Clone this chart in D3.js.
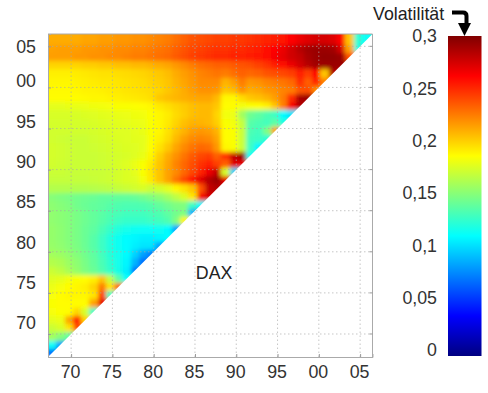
<!DOCTYPE html>
<html>
<head>
<meta charset="utf-8">
<script src="https://cdn.jsdelivr.net/npm/d3@7/dist/d3.min.js"></script>
<style>
  body { margin: 0; background: #fff; }
  text { font-family: "Liberation Sans", Arial, sans-serif; }
</style>
</head>
<body>
<script>
// first year of the rolling window, one column per year
let firstYear = 1967;

let tickYears = [1970, 1975, 1980, 1985, 1990, 1995, 2000, 2005];
let tickLabels = ["70", "75", "80", "85", "90", "95", "00", "05"];

let barTicks = [0, 0.05, 0.1, 0.15, 0.2, 0.25, 0.3];
let barLabels = ["0", "0,05", "0,1", "0,15", "0,2", "0,25", "0,3"];

// jet colormap stops
let jetStops = [0, 0.0375, 0.1125, 0.1875, 0.2625, 0.3];
let jetColors = ["#000080", "#0000ff", "#00ffff", "#ffff00", "#ff0000", "#800000"];

// volatility x 1000. first row = 2005, last row = 1967,
// each row starts at column 1967 and ends on the diagonal
let vol = [
  [212,212,212,212,214,214,216,216,218,218, 220,220,222,224,226,230,234,238,240,242, 244,244,246,246,248,250,252,254,256,262, 268,272,275,275,272,262,205,125,115],
  [215,216,216,216,218,218,220,220,222,222, 224,224,226,228,230,234,238,242,244,246, 248,248,250,250,252,254,258,262,268,276, 284,290,292,292,290,275,215,120],
  [216,216,216,218,218,220,220,222,222,224, 226,226,228,230,232,236,240,244,246,248, 250,250,252,252,254,256,260,265,270,276, 280,288,292,294,294,292,240],
  [200,200,200,200,202,202,204,204,206,206, 208,208,210,212,214,218,222,226,230,232, 234,234,236,238,240,244,248,255,260,268, 276,284,290,292,292,292],
  [192,192,192,193,194,195,196,196,197,198, 199,200,202,204,207,212,216,220,224,226, 228,226,230,234,232,234,238,240,242,245, 255,245,262,205,285],
  [190,190,190,191,192,193,194,194,195,196, 197,198,200,202,205,210,214,218,222,222, 222,210,216,226,218,220,224,226,228,232, 250,235,252,225],
  [189,189,189,190,191,191,192,193,194,195, 196,197,198,200,204,208,212,216,220,220, 218,205,208,220,212,214,218,220,224,226, 238,240,222],
  [188,188,188,188,189,190,190,191,192,193, 194,195,197,204,207,209,211,213,214,214, 208,190,190,198,204,206,210,216,226,250, 288,292],
  [180,180,181,181,182,183,184,185,186,186, 187,188,190,194,197,200,203,206,208,208, 204,188,188,184,186,188,192,205,225,265, 285],
  [176,176,176,176,177,178,179,180,181,182, 183,184,187,190,193,198,202,206,208,208, 200,184,182,160,145,140,135,130,112,105],
  [175,175,175,175,175,176,177,178,179,180, 181,182,186,190,194,200,206,210,210,208, 202,186,184,170,138,135,132,140,122],
  [174,174,174,174,174,175,176,177,178,178, 180,181,186,190,196,204,210,216,218,216, 210,188,186,172,135,132,150,215],
  [174,173,172,172,172,174,175,176,177,178, 179,180,186,192,198,208,216,222,224,222, 214,188,186,172,132,130,125],
  [175,174,173,172,172,173,174,175,176,177, 178,180,188,196,204,214,222,228,232,230, 218,190,186,172,130,110],
  [175,174,173,172,172,172,173,174,175,176, 178,181,190,202,212,220,228,236,242,245, 235,248,280,292,115],
  [174,173,172,172,172,172,173,174,176,178, 182,186,194,205,214,224,232,240,248,252, 245,235,272,270],
  [172,172,171,171,171,172,172,173,175,177, 180,186,195,205,215,222,232,242,252,268, 280,175,100],
  [170,170,170,170,170,171,172,173,175,177, 178,184,194,205,215,228,242,258,272,285, 292,270],
  [165,165,165,165,165,166,167,168,170,172, 174,176,172,175,180,190,196,205,240,280, 285],
  [152,150,148,146,145,144,142,142,142,142, 143,146,150,154,160,168,176,195,265,275],
  [154,152,150,146,144,142,140,138,136,135, 135,136,138,142,146,150,150,130,110],
  [155,153,151,148,145,142,139,136,134,132, 132,132,134,136,140,146,150,90],
  [155,153,151,148,145,142,138,134,130,128, 128,128,130,132,136,150,190],
  [156,154,151,148,144,140,134,128,122,118, 116,115,115,116,112,85],
  [156,154,151,148,144,138,130,122,116,112, 110,108,108,110,112],
  [157,155,152,149,144,138,130,122,116,112, 108,105,105,85],
  [160,158,155,151,146,140,132,124,118,112, 100,85,75],
  [165,163,158,154,148,142,134,126,118,110, 90,70],
  [172,168,162,156,150,144,136,128,120,108, 72],
  [178,180,184,186,188,192,205,170,140,115],
  [182,185,188,190,192,200,226,195,232],
  [185,188,190,190,190,195,245,130],
  [186,188,188,188,188,215,270],
  [185,187,188,200,175,128],
  [180,182,215,262,200],
  [172,176,195,240],
  [160,152,140],
  [115,85],
  [70]
];

let lastYear = firstYear + vol.length - 1;

let width = 488;
let height = 393;

// axis scales, both run over the same span of years
let x = d3.scaleLinear().domain([1967.2, 2006.5]).range([48, 372.5]);
let y = d3.scaleLinear().domain([1967.2, 2006.5]).range([357, 34]);

// the y labels in the picture do not sit on their ticks
let yLabel = d3.scaleLinear().domain([1970, 1995, 2000, 2005]).range([323, 121.5, 81, 46.5]);

// jet colour scale
let color = d3.scaleLinear().domain(jetStops).range(jetColors).clamp(true);

let svg = d3.select("body").append("svg")
  .attr("width", width)
  .attr("height", height)
  .style("display", "block");

let defs = svg.append("defs");

// blur softens the yearly cells, the real picture is interpolated
defs.append("filter")
  .attr("id", "soft")
  .attr("filterUnits", "userSpaceOnUse")
  .attr("x", 0).attr("y", 0).attr("width", width).attr("height", height)
  .append("feGaussianBlur")
  .attr("stdDeviation", 2.3);

// upper left triangle of the plot
defs.append("clipPath")
  .attr("id", "tri")
  .append("polygon")
  .attr("points", [
    [x.range()[0], y.range()[0]],
    [x.range()[0], y.range()[1]],
    [x.range()[1], y.range()[1]]
  ].map((p) => p.join(",")).join(" "));

// flatten rows to cells
let cells = [];
vol.forEach((row, i) => {
  row.forEach((v, j) => {
    cells.push({
      rowYear: lastYear - i,
      colYear: firstYear + j,
      value: v / 1000,
      first: j === 0,
      last: j === row.length - 1,
      top: i === 0
    });
  });
});

let step = x(firstYear + 1) - x(firstYear);

let heat = svg.append("g").attr("clip-path", "url(#tri)")
  .append("g").attr("filter", "url(#soft)");

// edge cells run on past the clip so the blur does not fade at the border
heat.selectAll("rect")
  .data(cells)
  .join("rect")
  .attr("x", (d) => x(d.colYear + 0.2) - (d.first ? step : 0))
  .attr("y", (d) => y(d.rowYear + 1.2) - (d.top ? step : 0))
  .attr("width", (d) => step + (d.first ? step : 0) + (d.last ? 2 * step : 0))
  .attr("height", (d) => step + (d.top ? step : 0))
  .attr("fill", (d) => color(d.value))
  .attr("shape-rendering", "crispEdges");

// dotted grid
let grid = svg.append("g")
  .attr("stroke", "#a8a8a8")
  .attr("stroke-width", 1)
  .attr("stroke-dasharray", "1.5,2.5")
  .attr("opacity", 0.65);

grid.selectAll(".gx")
  .data(tickYears)
  .join("line")
  .attr("class", "gx")
  .attr("x1", (d) => x(d)).attr("x2", (d) => x(d))
  .attr("y1", y.range()[0]).attr("y2", y.range()[1]);

grid.selectAll(".gy")
  .data(tickYears)
  .join("line")
  .attr("class", "gy")
  .attr("y1", (d) => y(d)).attr("y2", (d) => y(d))
  .attr("x1", x.range()[0]).attr("x2", x.range()[1]);

// axes
let xAxis = d3.axisBottom(x)
  .tickValues(tickYears)
  .tickFormat((d, i) => tickLabels[i])
  .tickSize(-3)
  .tickPadding(8);

let yAxis = d3.axisLeft(y)
  .tickValues(tickYears)
  .tickFormat((d, i) => tickLabels[i])
  .tickSize(-3)
  .tickPadding(12);

let xGroup = svg.append("g")
  .attr("transform", "translate(0," + y.range()[0] + ")")
  .call(xAxis);

let yGroup = svg.append("g")
  .attr("transform", "translate(" + x.range()[0] + ",0)")
  .call(yAxis);

[xGroup, yGroup].forEach((g) => {
  g.selectAll("path").attr("stroke", "#aaa");
  g.selectAll("line").attr("stroke", "#999");
  g.selectAll("text").attr("font-size", 17.8).attr("fill", "#333");
  g.attr("font-family", null);
});

xGroup.selectAll("text").attr("dx", -1);
yGroup.selectAll("text").attr("y", (d) => yLabel(d) - y(d));

// the rest of the box
svg.append("line")
  .attr("x1", x.range()[1]).attr("x2", x.range()[1])
  .attr("y1", y.range()[0]).attr("y2", y.range()[1])
  .attr("stroke", "#aaa");
svg.append("line")
  .attr("x1", x.range()[0]).attr("x2", x.range()[1])
  .attr("y1", y.range()[1]).attr("y2", y.range()[1])
  .attr("stroke", "#aaa");

// right hand ticks, as small as the others
svg.selectAll(".rt")
  .data(tickYears)
  .join("line")
  .attr("class", "rt")
  .attr("x1", x.range()[1] - 3).attr("x2", x.range()[1])
  .attr("y1", (d) => y(d)).attr("y2", (d) => y(d))
  .attr("stroke", "#999");

svg.append("text")
  .attr("x", x(1985.1))
  .attr("y", y(1976.7))
  .attr("font-size", 17.8)
  .attr("fill", "#222")
  .text("DAX");

// colour bar
let barY = d3.scaleLinear().domain([0, 0.3]).range([356, 36]);
let barLabelY = d3.scaleLinear().domain([0, 0.3]).range([350, 36]);

let gradient = defs.append("linearGradient")
  .attr("id", "jet")
  .attr("x1", 0).attr("x2", 0)
  .attr("y1", 1).attr("y2", 0);

gradient.selectAll("stop")
  .data(jetStops)
  .join("stop")
  .attr("offset", (d) => d / 0.3)
  .attr("stop-color", (d) => color(d));

svg.append("rect")
  .attr("x", 448)
  .attr("y", barY(0.3))
  .attr("width", 33.5)
  .attr("height", barY(0) - barY(0.3))
  .attr("fill", "url(#jet)");

svg.selectAll(".barlabel")
  .data(barTicks)
  .join("text")
  .attr("class", "barlabel")
  .attr("x", 437)
  .attr("y", (d) => barLabelY(d))
  .attr("dy", "0.35em")
  .attr("text-anchor", "end")
  .attr("font-size", 17.8)
  .attr("fill", "#333")
  .text((d, i) => barLabels[i]);

svg.append("text")
  .attr("x", 373)
  .attr("y", 20)
  .attr("font-size", 17.8)
  .attr("fill", "#222")
  .text("Volatilität");

// bent arrow down to the bar
svg.append("path")
  .attr("d", "M452,12.5 H463 Q466.5,12.5 466.5,16 V24")
  .attr("fill", "none")
  .attr("stroke", "#000")
  .attr("stroke-width", 4);
svg.append("path")
  .attr("d", "M458,23 H471 L464.5,36 Z")
  .attr("fill", "#000");
</script>
</body>
</html>
